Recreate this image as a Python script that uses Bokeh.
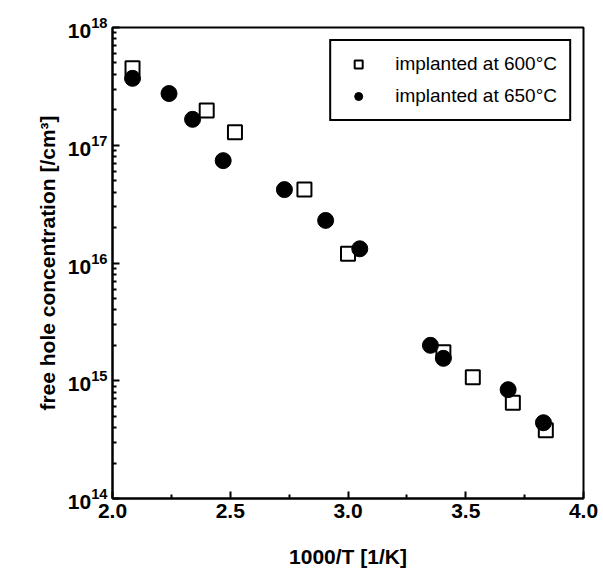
from bokeh.plotting import figure
from bokeh.models import Legend, LegendItem, FixedTicker, NumeralTickFormatter
from bokeh.embed import file_html
from bokeh.resources import INLINE

# Data
x_600 = [2.085, 2.40, 2.52, 2.815, 3.00, 3.405, 3.53, 3.70, 3.84]
y_600 = [4.5e17, 1.97e17, 1.29e17, 4.2e16, 1.2e16, 1.75e15, 1.07e15, 6.5e14, 3.8e14]

x_650 = [2.085, 2.24, 2.34, 2.47, 2.73, 2.905, 3.05, 3.35, 3.405, 3.68, 3.83]
y_650 = [3.7e17, 2.75e17, 1.66e17, 7.4e16, 4.2e16, 2.3e16, 1.32e16, 2.0e15, 1.55e15, 8.4e14, 4.4e14]

x_ticks = [2.0, 2.5, 3.0, 3.5, 4.0]
y_ticks = [1e14, 1e15, 1e16, 1e17, 1e18]

FONT = "Liberation Sans"

p = figure(width=603, height=570, y_axis_type="log",
           x_range=(2.0, 4.0), y_range=(1e14, 1e18),
           output_backend="svg", toolbar_location=None,
           min_border_left=112, min_border_right=20,
           min_border_top=27, min_border_bottom=72)

p.xgrid.visible = False
p.ygrid.visible = False
p.outline_line_color = "black"
p.outline_line_width = 2
p.outline_line_alpha = 1.0
p.background_fill_color = "white"
p.border_fill_color = "white"

r1 = p.scatter(x_600, y_600, marker="square", size=14, fill_color="white",
               line_color="black", line_width=2)
r2 = p.scatter(x_650, y_650, marker="circle", size=16, fill_color="black",
               line_color="black")

legend = Legend(items=[LegendItem(label="implanted at 600°C", renderers=[r1]),
                       LegendItem(label="implanted at 650°C", renderers=[r2])],
                location="top_right")
legend.label_text_font = FONT
legend.label_text_font_size = "19px"
legend.label_text_color = "black"
legend.label_height = 20
legend.label_standoff = 22
legend.border_line_color = "black"
legend.border_line_width = 2
legend.border_line_alpha = 1.0
legend.margin = 12
legend.padding = 12
legend.spacing = 10
legend.glyph_width = 30
legend.glyph_height = 20
p.add_layout(legend)

p.xaxis.ticker = FixedTicker(ticks=x_ticks, minor_ticks=[2.25, 2.75, 3.25, 3.75])
p.xaxis.formatter = NumeralTickFormatter(format="0.0")
p.xaxis.axis_label = "1000/T [1/K]"
p.yaxis.axis_label = "free hole concentration [/cm³]"
for ax in (p.xaxis[0], p.yaxis[0]):
    ax.axis_label_text_font = FONT
    ax.axis_label_text_font_style = "bold"
    ax.axis_label_text_font_size = "21px"
    ax.axis_label_text_color = "black"
    ax.major_label_text_font = FONT
    ax.major_label_text_font_style = "bold"
    ax.major_label_text_font_size = "21px"
    ax.major_label_text_color = "black"
    ax.major_tick_in = 7
    ax.major_tick_out = 0
    ax.minor_tick_in = 4
    ax.minor_tick_out = 0
    ax.axis_line_width = 2
    ax.axis_line_color = "black"
    ax.major_tick_line_width = 2
    ax.major_tick_line_color = "black"
    ax.minor_tick_line_width = 2
    ax.minor_tick_line_color = "black"
p.xaxis.axis_label_standoff = 24
p.yaxis.axis_label_standoff = 6
p.yaxis.ticker = FixedTicker(ticks=y_ticks,
                             minor_ticks=[m * 10 ** e for e in range(14, 18) for m in range(2, 10)])

open("out.html", "w").write(file_html(p, INLINE))
